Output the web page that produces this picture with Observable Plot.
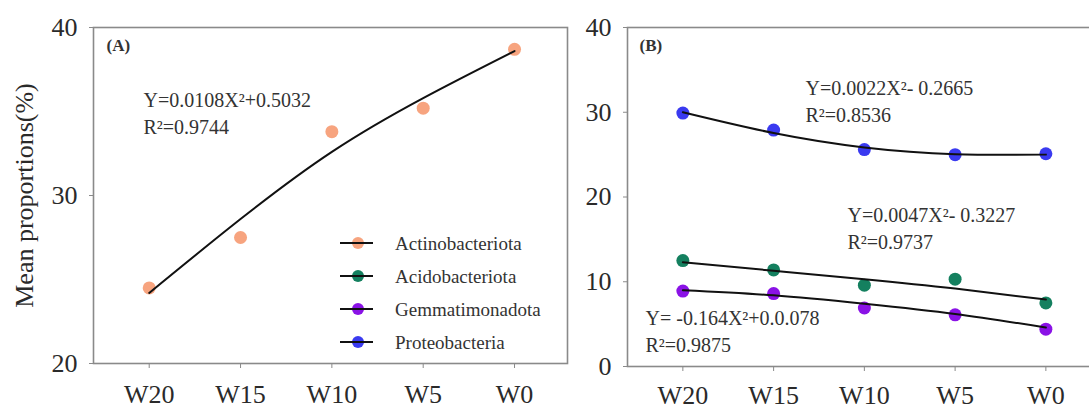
<!DOCTYPE html>
<html><head><meta charset="utf-8">
<script src="https://cdn.jsdelivr.net/npm/d3@7"></script>
<script src="https://cdn.jsdelivr.net/npm/@observablehq/plot@0.6"></script>
<style>
html,body{margin:0;padding:0;background:#fff;overflow:hidden;}
#wrap{position:relative;width:1089px;height:410px;overflow:hidden;font-family:"Liberation Serif","Times New Roman",serif;}
#wrap > *{position:absolute;top:0;}
</style></head><body><div id="wrap"></div>
<script>
// ---- data ----
const categories = ["W20", "W15", "W10", "W5", "W0"];
const seriesNames = ["Actinobacteriota", "Acidobacteriota", "Gemmatimonadota", "Proteobacteria"];
const seriesColors = ["#f7a47f", "#14805f", "#8a12e6", "#3a3af0"];

const actino    = [24.5, 27.5, 33.8, 35.2, 38.7];
const actinoFit = [24.2, 28.6, 32.6, 35.8, 38.6];
const acido     = [12.5, 11.4, 9.6, 10.3, 7.5];
const acidoFit  = [12.3, 11.3, 10.3, 9.2, 7.9];
const gemma     = [8.9, 8.6, 6.9, 6.1, 4.4];
const gemmaFit  = [9.0, 8.4, 7.4, 6.2, 4.6];
const proteo    = [29.9, 27.9, 25.6, 25.0, 25.1];
const proteoFit = [30.0, 27.55, 25.85, 25.05, 25.0];

const notesA = ["(A)", "Y=0.0108X²+0.5032", "R²=0.9744"];
const notesB = ["(B)", "Y=0.0022X²- 0.2665", "R²=0.8536", "Y=0.0047X²- 0.3227", "R²=0.9737", "Y= -0.164X²+0.0.078", "R²=0.9875"];
const yLabel = "Mean proportions(%)";

// ---- helpers ----
const rows = (name, vals) => vals.map((v, i) => ({series: name, i, v}));
const colorOf = name => seriesColors[seriesNames.indexOf(name)];
const FONT = "Liberation Serif";
const GREY = "#8a8a8a";
const TXT = "#2a2a2a";

function note(text, dx, dy, opts = {}) {
  return Plot.text([text], {text: d => d, frameAnchor: "top-left", dx, dy, textAnchor: "start",
    lineAnchor: "middle", fontSize: 20, fill: "#333", ...opts});
}

function panel({width, marginLeft, marginRight, marginTop, marginBottom, yDomain, yTicks, xPad, yPad, series, notes, label}) {
  const marks = [];
  for (const s of series) {
    marks.push(Plot.dot(rows(s.name, s.vals), {x: "i", y: "v", r: 6.5, fill: colorOf(s.name), stroke: "none"}));
  }
  for (const s of series) {
    marks.push(Plot.line(rows(s.name, s.fit), {x: "i", y: "v", stroke: "#111", strokeWidth: 2, curve: "natural"}));
  }
  marks.push(Plot.frame({stroke: GREY, strokeWidth: 1.6}));
  marks.push(Plot.axisX({ticks: [0, 1, 2, 3, 4], text: null, tickSize: 5, stroke: GREY, label: null}));
  marks.push(Plot.axisX({ticks: [0, 1, 2, 3, 4], tickFormat: i => categories[i], tickSize: 0, tickPadding: xPad,
    fontSize: 26, fill: TXT, label: null}));
  marks.push(Plot.axisY({ticks: yTicks, text: null, tickSize: 4, stroke: GREY, label: null}));
  marks.push(Plot.axisY({ticks: yTicks, tickSize: 0, tickPadding: yPad, fontSize: 26, fill: TXT,
    label: label || null, labelAnchor: "center", labelOffset: 79, labelArrow: "none"}));
  marks.push(...notes);
  return Plot.plot({
    width, height: 410, marginLeft, marginRight, marginTop, marginBottom,
    style: {fontFamily: FONT, fontSize: "26px", background: "transparent", color: TXT},
    x: {domain: [-0.61, 4.58], label: null},
    y: {domain: yDomain, label: null},
    marks
  });
}

const wrap = document.getElementById("wrap");

const A = panel({
  width: 580, marginLeft: 93, marginRight: 13, marginTop: 27, marginBottom: 47,
  yDomain: [20, 40], yTicks: [20, 30, 40], xPad: 21, yPad: 16, label: yLabel,
  series: [{name: "Actinobacteriota", vals: actino, fit: actinoFit}],
  notes: [
    note(notesA[0], 13, 18, {fontSize: 17, fontWeight: "bold"}),
    note(notesA[1], 50, 73),
    note(notesA[2], 50, 100)
  ]
});
A.style.left = "0px";
wrap.appendChild(A);

const B = panel({
  width: 540, marginLeft: 67, marginRight: 2, marginTop: 27, marginBottom: 44,
  yDomain: [0, 40], yTicks: [0, 10, 20, 30, 40], xPad: 19, yPad: 16,
  series: [
    {name: "Acidobacteriota", vals: acido, fit: acidoFit},
    {name: "Gemmatimonadota", vals: gemma, fit: gemmaFit},
    {name: "Proteobacteria", vals: proteo, fit: proteoFit}
  ],
  notes: [
    note(notesB[0], 12, 18, {fontSize: 17, fontWeight: "bold"}),
    note(notesB[1], 178, 61),
    note(notesB[2], 178, 88),
    note(notesB[3], 220, 188),
    note(notesB[4], 220, 215),
    note(notesB[5], 18, 291),
    note(notesB[6], 18, 318)
  ]
});
B.style.left = "560px";
wrap.appendChild(B);

// ---- legend (inside panel A) ----
const leg = d3.create("svg").attr("width", 240).attr("height", 140)
  .style("left", "330px").style("top", "225px").style("position", "absolute");
seriesNames.forEach((name, k) => {
  const g = leg.append("g").attr("transform", `translate(0,${18 + k * 33})`);
  g.append("circle").attr("cx", 28).attr("cy", 0).attr("r", 6).attr("fill", seriesColors[k]);
  g.append("line").attr("x1", 10).attr("x2", 43).attr("y1", 0).attr("y2", 0).attr("stroke", "#111").attr("stroke-width", 2);
  g.append("text").attr("x", 65).attr("y", 0).attr("dy", "0.35em").attr("font-family", FONT)
    .attr("font-size", 19).attr("fill", "#333").text(name);
});
wrap.appendChild(leg.node());
</script></body></html>
